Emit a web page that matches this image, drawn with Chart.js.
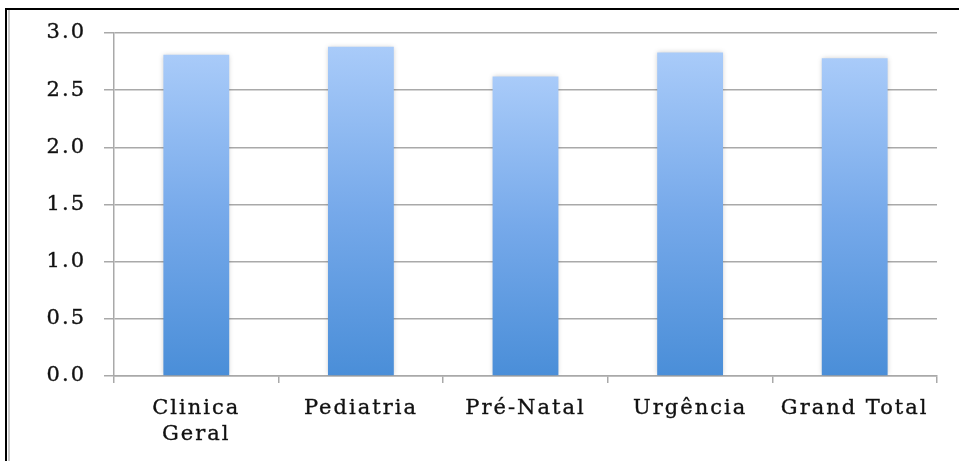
<!DOCTYPE html>
<html>
<head>
<meta charset="utf-8">
<script src="https://cdn.jsdelivr.net/npm/chart.js@4/dist/chart.umd.min.js"></script>
<style>
  html, body { margin: 0; padding: 0; background: #fff; overflow: hidden; }
  #wrap { position: relative; width: 959px; height: 461px; }
  #frame {
    position: absolute; left: 5px; top: 8px; width: 1000px; height: 500px;
    border-top: 2px solid #000; border-left: 2px solid #000;
  }
  #frame::after {
    content: ""; position: absolute; left: 1px; top: 0; width: 2px; height: 100%;
    background: #c8c8c8;
  }
  canvas { position: absolute; left: 0; top: 0; }
</style>
</head>
<body>
<div id="wrap">
  <div id="frame"></div>
  <canvas id="c" width="959" height="461"></canvas>
</div>
<script>
// Mean scores per service
const categories = [['Clinica', 'Geral'], 'Pediatria', 'Pré-Natal', 'Urgência', 'Grand Total'];
const scores = [2.81, 2.88, 2.62, 2.83, 2.78];
const yTicks = [0, 0.5, 1.0, 1.5, 2.0, 2.5, 3.0];

const labelFont = { family: 'DejaVu Serif', size: 21, lineHeight: 1.25 };
const gridGray = '#a9a9a9';

// Wide label lettering
const spacing = {
  id: 'spacing',
  beforeUpdate(chart) { chart.ctx.letterSpacing = '2px'; },
  beforeDraw(chart) { chart.ctx.letterSpacing = '2px'; }
};

// Soft halo around the bars
const barShadow = {
  id: 'barShadow',
  beforeDatasetsDraw(chart) {
    const ctx = chart.ctx;
    ctx.save();
    ctx.shadowColor = 'rgba(0,0,0,0.22)';
    ctx.shadowBlur = 5;
  },
  afterDatasetsDraw(chart) { chart.ctx.restore(); }
};

function barGradient(context) {
  const chart = context.chart;
  const area = chart.chartArea;
  if (!area) return '#7aacec';
  const top = chart.scales.y.getPixelForValue(scores[context.dataIndex]);
  const g = chart.ctx.createLinearGradient(0, top, 0, area.bottom);
  g.addColorStop(0, '#a9cbf9');
  g.addColorStop(0.5, '#76a9ea');
  g.addColorStop(1, '#4a8ed8');
  return g;
}

new Chart(document.getElementById('c'), {
  type: 'bar',
  data: {
    labels: categories,
    datasets: [{
      data: scores,
      backgroundColor: barGradient,
      borderWidth: 0,
      barPercentage: 0.4,
      categoryPercentage: 1.0
    }]
  },
  options: {
    responsive: false,
    animation: false,
    layout: { padding: { top: 33, right: 22, left: 0, bottom: 0 } },
    plugins: { legend: { display: false }, tooltip: { enabled: false } },
    scales: {
      x: {
        afterFit(scale) { scale.height = 85; },
        grid: {
          offset: true,
          drawOnChartArea: false,
          drawTicks: true,
          tickLength: 7,
          color: gridGray,
          lineWidth: 1.5
        },
        border: { color: gridGray, width: 1.5 },
        ticks: {
          color: '#111',
          textStrokeColor: '#333',
          textStrokeWidth: 0.4,
          font: labelFont,
          padding: 12,
          maxRotation: 0,
          autoSkip: false
        }
      },
      y: {
        min: 0,
        max: 3,
        afterFit(scale) { scale.width = 114; },
        afterBuildTicks(scale) { scale.ticks = yTicks.map(v => ({ value: v })); },
        grid: {
          color: gridGray,
          lineWidth: 1.5,
          drawTicks: true,
          tickLength: 10
        },
        border: { color: gridGray, width: 1.5 },
        ticks: {
          color: '#111',
          textStrokeColor: '#333',
          textStrokeWidth: 0.4,
          font: labelFont,
          padding: 18,
          callback: v => Number(v).toFixed(1)
        }
      }
    }
  },
  plugins: [spacing, barShadow]
});
</script>
</body>
</html>
